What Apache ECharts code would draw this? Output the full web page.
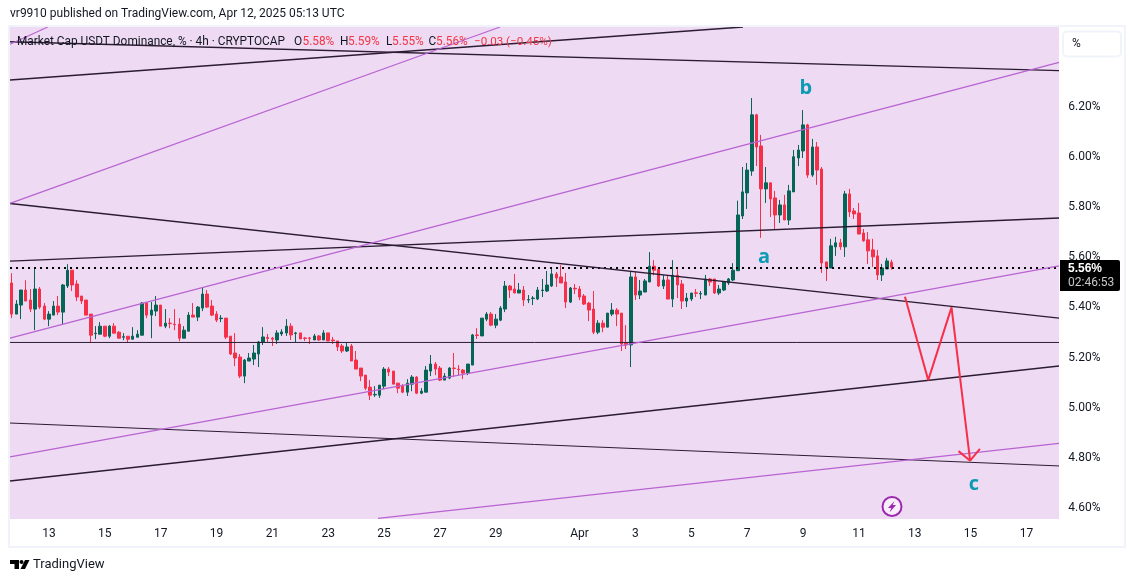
<!DOCTYPE html>
<html lang="en">
<head>
<meta charset="utf-8">
<title>Market Cap USDT Dominance</title>
<script src="https://cdn.jsdelivr.net/npm/echarts@6/dist/echarts.min.js"></script>
<style>
html,body{margin:0;padding:0;background:#fff}
#main{width:1135px;height:582px}
</style>
</head>
<body>
<div id="main"></div>
<script>
// 4h candles, left to right
const opens = [
5.497,5.373,5.409,5.469,5.429,5.393,5.473,5.405,5.353,5.369,
5.405,5.381,5.485,5.548,5.493,5.445,5.429,5.373,5.295,5.293,
5.325,5.285,5.325,5.301,5.281,5.285,5.273,5.281,5.289,5.417,
5.369,5.385,5.409,5.325,5.337,5.333,5.333,5.277,5.305,5.369,
5.361,5.397,5.453,5.405,5.373,5.355,5.357,5.285,5.218,5.202,
5.126,5.186,5.194,5.214,5.262,5.280,5.277,5.270,5.294,5.298,
5.325,5.296,5.298,5.278,5.278,5.270,5.286,5.270,5.298,5.270,
5.266,5.246,5.226,5.246,5.190,5.158,5.130,5.082,5.051,5.050,
5.086,5.154,5.146,5.098,5.086,5.062,5.094,5.122,5.058,5.062,
5.146,5.174,5.158,5.110,5.118,5.158,5.154,5.150,5.138,5.170,
5.290,5.286,5.353,5.373,5.329,5.349,5.393,5.485,5.473,5.457,
5.469,5.429,5.435,5.433,5.467,5.465,5.485,5.533,5.521,5.501,
5.421,5.476,5.473,5.445,5.417,5.393,5.301,5.337,5.321,5.373,
5.389,5.377,5.258,5.250,5.521,5.449,5.461,5.501,5.564,5.552,
5.485,5.509,5.433,5.528,5.493,5.425,5.433,5.458,5.453,5.449,
5.513,5.513,5.457,5.469,5.497,5.509,5.546,5.764,5.856,5.943,
6.167,6.043,5.872,5.896,5.836,5.768,5.808,5.748,5.860,5.995,
6.023,6.127,5.927,6.039,5.951,5.581,5.557,5.641,5.657,5.641,
5.852,5.784,5.776,5.696,5.669,5.629,5.605,5.529,5.553,5.58];
const closes = [
5.373,5.413,5.469,5.425,5.393,5.473,5.401,5.353,5.373,5.405,
5.381,5.489,5.548,5.489,5.441,5.425,5.369,5.289,5.297,5.325,
5.285,5.325,5.297,5.277,5.283,5.273,5.285,5.293,5.417,5.369,
5.389,5.409,5.325,5.337,5.335,5.331,5.277,5.309,5.369,5.361,
5.401,5.453,5.401,5.369,5.349,5.357,5.281,5.214,5.198,5.126,
5.190,5.198,5.218,5.262,5.282,5.276,5.273,5.298,5.302,5.325,
5.290,5.298,5.274,5.276,5.276,5.286,5.270,5.298,5.266,5.267,
5.242,5.226,5.242,5.186,5.154,5.126,5.078,5.050,5.053,5.090,
5.154,5.142,5.094,5.078,5.062,5.098,5.122,5.058,5.066,5.150,
5.174,5.154,5.110,5.126,5.158,5.156,5.152,5.138,5.174,5.290,
5.288,5.357,5.373,5.329,5.353,5.397,5.485,5.469,5.457,5.469,
5.429,5.431,5.437,5.469,5.469,5.489,5.533,5.517,5.497,5.421,
5.477,5.473,5.441,5.413,5.389,5.301,5.337,5.321,5.377,5.389,
5.373,5.254,5.250,5.521,5.449,5.465,5.505,5.564,5.548,5.485,
5.509,5.433,5.528,5.489,5.425,5.437,5.457,5.456,5.455,5.513,
5.501,5.457,5.473,5.501,5.513,5.548,5.768,5.860,5.947,6.167,
6.039,5.872,5.896,5.832,5.768,5.808,5.748,5.864,6.000,6.027,
6.127,5.927,6.039,5.947,5.577,5.557,5.645,5.657,5.641,5.852,
5.780,5.772,5.692,5.665,5.625,5.601,5.529,5.557,5.585,5.56];
const lows = [
5.357,5.373,5.353,5.425,5.381,5.309,5.393,5.349,5.325,5.369,
5.369,5.333,5.477,5.465,5.425,5.413,5.369,5.258,5.273,5.293,
5.281,5.277,5.297,5.277,5.269,5.258,5.273,5.281,5.289,5.357,
5.277,5.365,5.325,5.317,5.317,5.309,5.265,5.277,5.305,5.361,
5.345,5.385,5.397,5.365,5.341,5.341,5.273,5.210,5.166,5.118,
5.098,5.186,5.170,5.162,5.250,5.262,5.246,5.254,5.286,5.286,
5.270,5.262,5.274,5.266,5.254,5.270,5.266,5.270,5.266,5.254,
5.226,5.218,5.222,5.186,5.154,5.106,5.070,5.031,5.043,5.039,
5.074,5.126,5.094,5.058,5.058,5.047,5.066,5.054,5.054,5.062,
5.126,5.130,5.106,5.110,5.114,5.122,5.130,5.114,5.130,5.170,
5.274,5.286,5.345,5.325,5.317,5.345,5.381,5.437,5.457,5.457,
5.405,5.417,5.409,5.429,5.441,5.461,5.481,5.481,5.497,5.397,
5.417,5.453,5.429,5.409,5.345,5.293,5.293,5.301,5.321,5.365,
5.325,5.226,5.234,5.162,5.429,5.433,5.461,5.501,5.528,5.481,
5.473,5.433,5.401,5.437,5.393,5.401,5.425,5.441,5.433,5.449,
5.485,5.453,5.449,5.465,5.489,5.505,5.546,5.752,5.792,5.924,
5.963,5.677,5.816,5.760,5.708,5.736,5.748,5.728,5.860,5.963,
5.995,5.916,5.920,5.888,5.537,5.505,5.557,5.605,5.629,5.601,
5.760,5.752,5.692,5.661,5.573,5.561,5.509,5.505,5.553,5.55];
const highs = [
5.536,5.429,5.469,5.508,5.473,5.558,5.481,5.417,5.385,5.425,
5.445,5.493,5.572,5.548,5.508,5.445,5.429,5.373,5.325,5.341,
5.325,5.329,5.337,5.305,5.297,5.285,5.321,5.309,5.421,5.421,
5.421,5.445,5.409,5.393,5.357,5.393,5.357,5.325,5.381,5.417,
5.405,5.477,5.469,5.429,5.385,5.369,5.357,5.285,5.297,5.214,
5.194,5.218,5.250,5.266,5.321,5.294,5.282,5.309,5.313,5.353,
5.337,5.302,5.298,5.282,5.282,5.294,5.290,5.309,5.298,5.282,
5.266,5.254,5.258,5.254,5.226,5.158,5.130,5.110,5.086,5.090,
5.162,5.162,5.146,5.098,5.094,5.114,5.130,5.126,5.078,5.166,
5.210,5.182,5.166,5.138,5.162,5.218,5.170,5.154,5.174,5.294,
5.317,5.357,5.381,5.381,5.373,5.405,5.505,5.489,5.533,5.497,
5.485,5.449,5.445,5.481,5.513,5.545,5.556,5.541,5.568,5.537,
5.481,5.493,5.485,5.453,5.421,5.465,5.349,5.349,5.377,5.417,
5.397,5.377,5.329,5.541,5.541,5.509,5.513,5.620,5.588,5.552,
5.528,5.528,5.588,5.552,5.509,5.457,5.457,5.473,5.465,5.529,
5.517,5.513,5.489,5.505,5.517,5.576,5.825,5.959,5.975,6.234,
6.171,6.087,5.959,5.896,5.864,5.828,5.848,5.888,6.027,6.047,
6.186,6.131,6.071,6.059,5.959,5.581,5.673,5.681,5.673,5.864,
5.872,5.796,5.816,5.712,5.700,5.673,5.629,5.573,5.597,5.59];

// time axis: 226 four-hour slots, labels sit on the day's first slot
const slotCount = 226;
const tickSlots = [8,20,32,44,56,68,80,92,104,122,134,146,158,170,182,194,206,218];
const tickLabels = ['13','15','17','19','21','23','25','27','29','Apr','3','5','7','9','11','13','15','17'];
const priceTicks = [4.6,4.8,5.0,5.2,5.4,5.6,5.8,6.0,6.2];

// drawn lines as [slot, price] pairs
const darkLines = [
  [[0.14,6.306],[157.6,6.517]],
  [[0.14,6.458],[225.5,6.343]],
  [[0.14,5.814],[225.5,5.357]],
  [[0.14,5.584],[225.5,5.756]],
  [[0.14,5.26],[225.5,5.26]],
  [[0.14,4.708],[225.5,5.166]],
  [[0.14,4.939],[225.5,4.768]]
];
const purpleLines = [
  [[0.14,6.448],[8.23,6.517]],
  [[0.14,5.814],[105.4,6.517]],
  [[0.14,5.277],[225.5,6.376]],
  [[0.14,4.804],[225.5,5.565]],
  [[79.2,4.559],[225.5,4.858]]
];
const lastPrice = 5.557;
const forecastPath = [[192.4,5.442],[197.4,5.11],[202.4,5.4],[206.4,4.789]];
const arrowHead = [[203.9,4.827],[206.4,4.789],[208.5,4.836]];
const waveNames = ['a','b','c'];
const waveSlots = [162.1,171.1,207.2];
const wavePrices = [5.60,6.274,4.696];

const FONT = 'Roboto, "Noto Sans", sans-serif';
const TEXT = '#131722', RED = '#f23645', UP = '#056656', DOWN = '#f7304a';
const DARK = '#2b1b33', PURPLE = '#b864d1', TEAL = '#0b9bb2', PLOT = '#eedaf3';

const chart = echarts.init(document.getElementById('main'), null, {renderer: 'canvas'});

function trendSeries(pts, color, width) {
  return {
    type: 'line', xAxisIndex: 1, yAxisIndex: 0, data: pts, symbol: 'none', silent: true, z: 5,
    lineStyle: {color: color, width: width}, animation: false
  };
}

function txt(x, y, s, fill, size, extra) {
  return {
    type: 'text', x: x, y: y, z: 10, silent: true,
    style: Object.assign({text: s, fill: fill, font: (size || 12) + 'px ' + FONT, textVerticalAlign: 'middle'}, extra || {})
  };
}

const series = [{
  type: 'candlestick', xAxisIndex: 0, yAxisIndex: 0, barWidth: 3, z: 3, silent: true,
  data: opens.map((o, i) => [o, closes[i], lows[i], highs[i]]),
  itemStyle: {color: UP, color0: DOWN, borderColor: UP, borderColor0: DOWN, borderWidth: 1}
}];
darkLines.forEach((l, i) => series.push(trendSeries(l, DARK, i == 4 || i == 6 ? 1 : 1.4)));
purpleLines.forEach((l, i) => series.push(trendSeries(l, PURPLE, i == 2 ? 1.3 : 1.2)));
series.push({
  type: 'line', xAxisIndex: 1, data: [[0.14, lastPrice], [226, lastPrice]], symbol: 'none', silent: true, z: 4,
  lineStyle: {color: '#000', width: 2, type: [2, 4]}
});
series.push(trendSeries(forecastPath, DOWN, 2));
series.push(trendSeries(arrowHead, DOWN, 2));
series.push({
  type: 'scatter', xAxisIndex: 1, symbolSize: 1, z: 6, silent: true,
  data: waveNames.map((n, i) => ({name: n, value: [waveSlots[i], wavePrices[i]]})),
  itemStyle: {color: 'rgba(0,0,0,0)'},
  label: {show: true, position: 'inside', formatter: '{b}', color: TEAL, opacity: 1, fontSize: 20, fontWeight: 'bold', fontFamily: '"Open Sans", sans-serif'}
});

chart.setOption({
  animation: false,
  backgroundColor: '#fff',
  grid: {left: 9.37, top: 27, width: 1052, height: 492, show: true, backgroundColor: PLOT, borderWidth: 0, containLabel: false},
  xAxis: [{
    type: 'category', data: Array.from({length: slotCount}, (_, i) => String(i)), boundaryGap: true,
    axisLine: {show: false}, axisTick: {show: false}, splitLine: {show: false},
    axisLabel: {
      interval: idx => tickSlots.includes(idx),
      formatter: (v, idx) => tickLabels[tickSlots.indexOf(idx)] || '',
      color: TEXT, fontSize: 12, fontFamily: FONT, margin: 9
    }
  }, {
    type: 'value', min: 0, max: slotCount, show: false
  }],
  yAxis: [{
    type: 'value', position: 'right', min: 4.5566, max: 6.517, scale: true,
    axisLine: {show: false}, splitLine: {show: false},
    axisTick: {show: false, customValues: priceTicks},
    axisLabel: {customValues: priceTicks, formatter: v => v.toFixed(2) + '%', color: TEXT, fontSize: 12, fontFamily: FONT, margin: 7, padding: [4, 0, 0, 0]}
  }],
  series: series,
  graphic: [
    // trim plot to its frame
    {type: 'rect', z: 8, silent: true, shape: {x: 1059, y: 27, width: 4, height: 492}, style: {fill: '#fff'}},
    {type: 'rect', z: 9, silent: true, shape: {x: 9, y: 26, width: 1116, height: 521}, style: {fill: 'none', stroke: '#f0f3fa', lineWidth: 2}},
    {type: 'rect', z: 9, silent: true, shape: {x: 1063, y: 31.5, width: 58, height: 25, r: 4}, style: {fill: '#fff', stroke: '#f0f3fa', lineWidth: 2}},
    txt(1072, 44, '%', TEXT, 12),
    // header
    txt(10, 14, 'vr9910 published on TradingView.com, Apr 12, 2025 05:13 UTC', TEXT, 12),
    txt(17, 42, 'Market Cap USDT Dominance, % · 4h · CRYPTOCAP', TEXT, 11.85),
    txt(294, 42, 'O', TEXT, 11.85), txt(302.5, 42, '5.58%', RED, 11.85),
    txt(340, 42, 'H', TEXT, 11.85), txt(348, 42, '5.59%', RED, 11.85),
    txt(386, 42, 'L', TEXT, 11.85), txt(392, 42, '5.55%', RED, 11.85),
    txt(428.6, 42, 'C', TEXT, 11.85), txt(436, 42, '5.56%', RED, 11.85),
    txt(474, 42, '−0.03 (−0.45%)', RED, 11.6),
    // last price tag
    {type: 'rect', z: 11, silent: true, shape: {x: 1060, y: 260, width: 60, height: 31, r: [0, 2, 2, 0]}, style: {fill: '#000'}},
    Object.assign(txt(1068, 269, '5.56%', '#fff', 12, {fontWeight: 'bold'}), {z: 12}),
    Object.assign(txt(1068, 283, '02:46:53', '#c8c8c8', 12), {z: 12}),
    // lightning badge
    {type: 'circle', z: 9, silent: true, shape: {cx: 892, cy: 506.5, r: 9.5}, style: {fill: '#f7eefa', stroke: '#9c27b0', lineWidth: 2}},
    {type: 'polygon', z: 10, silent: true, shape: {points: [[894.5,501],[888,508],[891.3,508],[889.5,512.5],[896,505],[892.7,505]]}, style: {fill: '#9c27b0'}},
    // footer logo
    {type: 'polygon', z: 10, silent: true, shape: {points: [[10,560],[19,560],[19,569],[14.5,569],[14.5,564],[10,564]]}, style: {fill: '#000'}},
    {type: 'circle', z: 10, silent: true, shape: {cx: 21.5, cy: 562, r: 2}, style: {fill: '#000'}},
    {type: 'polygon', z: 10, silent: true, shape: {points: [[25,560],[29.5,560],[25,569],[20.5,569]]}, style: {fill: '#000'}},
    txt(33, 564.5, 'TradingView', TEXT, 13)
  ]
});
</script>
</body>
</html>
